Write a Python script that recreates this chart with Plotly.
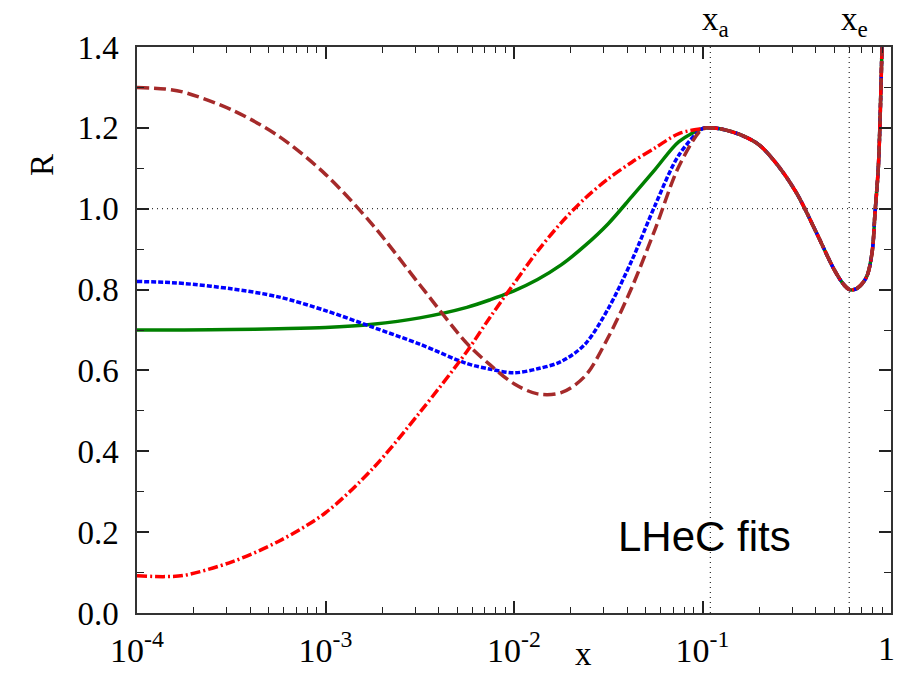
import numpy as np
import plotly.graph_objects as go

# ---- data ----
# log10(x) sample points of the small-x region, where the four fits differ
log_x_low = [-4.0, -3.85, -3.75, -3.5, -3.25, -3.0, -2.75, -2.5, -2.25, -2.125,
             -2.0, -1.875, -1.75, -1.625, -1.5, -1.375, -1.25, -1.125, -1.0]
green_low = [0.700, 0.700, 0.700, 0.701, 0.703, 0.706, 0.714, 0.730, 0.756, 0.775,
             0.797, 0.825, 0.861, 0.908, 0.963, 1.030, 1.098, 1.166, 1.198]
blue_low = [0.820, 0.818, 0.815, 0.802, 0.782, 0.748, 0.707, 0.665, 0.617, 0.603,
            0.594, 0.604, 0.622, 0.664, 0.753, 0.872, 1.010, 1.133, 1.198]
brown_low = [1.300, 1.296, 1.288, 1.245, 1.180, 1.085, 0.960, 0.812, 0.667, 0.613,
             0.567, 0.542, 0.545, 0.585, 0.682, 0.805, 0.951, 1.105, 1.198]
red_low = [0.092, 0.090, 0.093, 0.126, 0.177, 0.248, 0.357, 0.496, 0.647, 0.733,
           0.815, 0.895, 0.965, 1.025, 1.074, 1.115, 1.151, 1.186, 1.198]

# common large-x part (all fits coincide)
log_x_tail = [-0.96, -0.9, -0.8, -0.7, -0.6, -0.5, -0.4, -0.3, -0.25, -0.22,
              -0.18, -0.13, -0.1, -0.085, -0.067, -0.049, -0.035]
r_tail = [1.200, 1.197, 1.183, 1.158, 1.107, 1.038, 0.945, 0.848, 0.812, 0.800,
          0.803, 0.831, 0.893, 0.989, 1.104, 1.376, 1.650]

x_a = 0.11
x_e = 0.60
y_ticks = [0.0, 0.2, 0.4, 0.6, 0.8, 1.0, 1.2, 1.4]
x_tick_vals = [1e-4, 1e-3, 1e-2, 1e-1]
x_tick_text = ["10<sup>-4</sup>", "10<sup>-3</sup>", "10<sup>-2</sup>", "10<sup>-1</sup>"]
x_last_label = "1"

x_full = np.power(10.0, np.array(log_x_low + log_x_tail))

series = [
    ("green", green_low, "#008000", "solid"),
    ("blue", blue_low, "#0000ff", "5px,2px"),
    ("red", red_low, "#ff0000", "10px,3px,2px,3px"),
    ("brown", brown_low, "#a52a2a", "12px,5px"),
]

SERIF = "Liberation Serif"

fig = go.Figure()

# reference dotted lines
fig.add_trace(go.Scatter(x=[1e-4, 1.0], y=[1.0, 1.0], mode="lines",
                         line=dict(color="black", width=1, dash="1px,4px"),
                         hoverinfo="skip", showlegend=False))
for xv in (x_a, x_e):
    fig.add_trace(go.Scatter(x=[xv, xv], y=[0.0, 1.4], mode="lines",
                             line=dict(color="black", width=1, dash="1px,4px"),
                             hoverinfo="skip", showlegend=False))

for name, low, color, dash in series:
    fig.add_trace(go.Scatter(
        x=x_full, y=np.array(low + r_tail), mode="lines", name=name,
        line=dict(color=color, width=3.5, dash=dash, shape="spline", smoothing=0.9),
        showlegend=False))

# minor tick positions for the log axis
minor_x = [k * 10.0 ** e for e in range(-4, 0) for k in range(2, 10)]

fig.update_xaxes(
    type="log", range=[-4, 0], automargin=False, ticklabeloverflow="allow",
    tickvals=x_tick_vals + [1.0], ticktext=x_tick_text + [""],
    ticks="inside", ticklen=12, tickwidth=1.5, tickcolor="#222",
    minor=dict(tickvals=minor_x, ticks="inside", ticklen=6, tickwidth=1, tickcolor="#222", showgrid=False),
    showline=True, linecolor="#333", linewidth=1.5, mirror="allticks",
    showgrid=False, zeroline=False,
    tickfont=dict(family=SERIF, size=34, color="black"),
    ticklabelstandoff=6,
)
fig.update_yaxes(
    range=[0, 1.4], tickvals=y_ticks, tickformat=".1f", automargin=False,
    ticks="inside", ticklen=12, tickwidth=1.5, tickcolor="#222",
    minor=dict(dtick=0.1, ticks="inside", ticklen=7, tickwidth=1, tickcolor="#222", showgrid=False),
    showline=True, linecolor="#333", linewidth=1.5, mirror="allticks",
    showgrid=False, zeroline=False,
    tickfont=dict(family=SERIF, size=33, color="black"),
    ticklabelstandoff=10,
)

fig.update_layout(
    width=897, height=675,
    margin=dict(l=137, r=6, t=47, b=62),
    paper_bgcolor="white", plot_bgcolor="white",
    annotations=[
        dict(text=x_last_label, xref="paper", yref="paper", x=1.0075, y=-0.063,
             xanchor="right", yanchor="middle", showarrow=False,
             font=dict(family=SERIF, size=34, color="black")),
        dict(text="R", xref="paper", yref="paper", x=-0.126, y=0.7915,
             xanchor="center", yanchor="middle",
             showarrow=False, textangle=-90,
             font=dict(family=SERIF, size=33, color="black")),
        dict(text="x", xref="paper", yref="paper", x=0.592, y=-0.107,
             showarrow=False, xanchor="center", yanchor="bottom",
             font=dict(family=SERIF, size=33, color="black")),
        dict(text="x<sub>a</sub>", xref="x", yref="paper", x=np.log10(x_a) + 0.03, y=1.045,
             showarrow=False, xanchor="center", yanchor="middle",
             font=dict(family=SERIF, size=33, color="black")),
        dict(text="x<sub>e</sub>", xref="x", yref="paper", x=np.log10(x_e) + 0.03, y=1.045,
             showarrow=False, xanchor="center", yanchor="middle",
             font=dict(family=SERIF, size=33, color="black")),
        dict(text="LHeC fits", xref="paper", yref="paper", x=0.753, y=0.135,
             showarrow=False, xanchor="center", yanchor="middle",
             font=dict(family="Liberation Sans", size=42, color="black")),
    ],
)

fig.write_html("out.html")
